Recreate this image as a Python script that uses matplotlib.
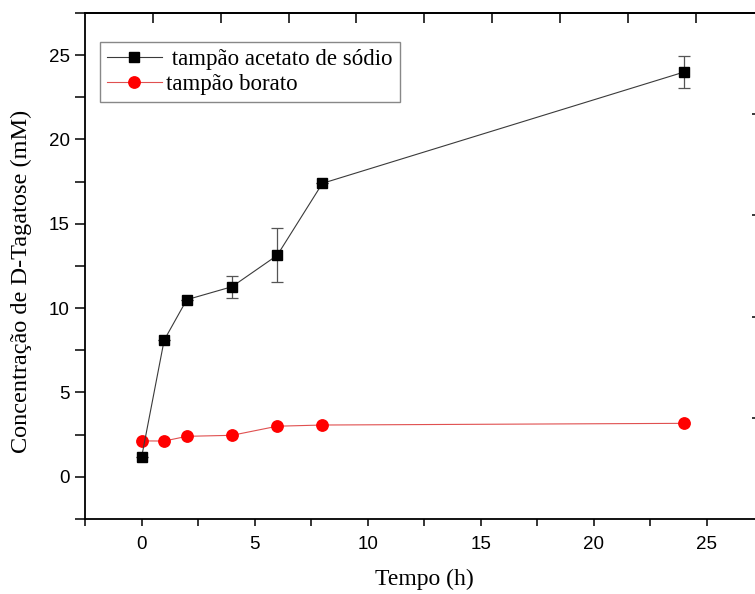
import numpy as np
import matplotlib.pyplot as plt
from matplotlib.ticker import MultipleLocator

# time points (h)
tempo = [0, 1, 2, 4, 6, 8, 24]

# D-tagatose concentration (mM)
acetato = [1.15, 8.1, 10.5, 11.27, 13.13, 17.4, 24.0]
acetato_err = [0.0, 0.0, 0.0, 0.64, 1.6, 0.0, 0.95]
borato = [2.13, 2.12, 2.4, 2.46, 3.0, 3.07, 3.17]

serif = "Liberation Serif"
sans = "Liberation Sans"

fig = plt.figure(figsize=(7.55, 5.94), dpi=100)
ax = fig.add_axes([0.1126, 0.1263, 0.8985, 0.8519])

ax.errorbar(tempo, acetato, yerr=acetato_err, fmt="none",
            ecolor="#555555", elinewidth=0.9, capsize=4.5, capthick=0.9,
            zorder=2)
h1, = ax.plot(tempo, acetato, color="#3a3a3a", lw=0.8, marker="s", ms=7.4,
              mfc="black", mec="black", zorder=3)
h2, = ax.plot(tempo, borato, color="#e05050", lw=0.8, marker="o", ms=8.2,
              mfc="red", mec="red", zorder=2)

ax.set_xlim(-2.5, 27.5)
ax.set_ylim(-2.5, 27.5)
ax.xaxis.set_major_locator(MultipleLocator(5))
ax.xaxis.set_minor_locator(MultipleLocator(2.5))
ax.yaxis.set_major_locator(MultipleLocator(5))
ax.yaxis.set_minor_locator(MultipleLocator(2.5))

ax.tick_params(axis="both", which="both", direction="out", width=1.1,
               labelsize=13.5, top=False, right=False)
ax.tick_params(axis="y", which="both", length=7, pad=4)
ax.tick_params(axis="x", which="both", length=5, pad=7)
for lab in ax.get_xticklabels() + ax.get_yticklabels():
    lab.set_fontfamily(sans)

for sp in ax.spines.values():
    sp.set_linewidth(1.3)

ax.set_xlabel("Tempo (h)", fontfamily=serif, fontsize=17, labelpad=12)
ax.set_ylabel("Concentração de D-Tagatose (mM)", fontfamily=serif,
              fontsize=17.5)
ax.yaxis.set_label_coords(-0.078, 0.47)

# frame ticks along top and right edges (ten / five equal divisions)
top = ax.secondary_xaxis("top", functions=(lambda x: (x + 2.5) / 3.0,
                                           lambda u: 3.0 * u - 2.5))
top.set_xticks(np.arange(1, 10))
top.tick_params(axis="x", which="both", direction="in", length=7.5,
                width=1.1, labeltop=False)
top.spines["top"].set_linewidth(1.3)
right = ax.secondary_yaxis("right", functions=(lambda y: (y + 2.5) / 30.0,
                                               lambda u: 30.0 * u - 2.5))
right.set_yticks([0.2, 0.4, 0.6, 0.8])
right.tick_params(axis="y", which="both", direction="in", length=8.2,
                  width=1.1, labelright=False)

leg = ax.legend([h1, h2], [" tampão acetato de sódio", "tampão borato"],
                loc="upper left", bbox_to_anchor=(0.022, 0.943),
                borderaxespad=0, prop={"family": serif, "size": 16.5},
                handlelength=2.4, handletextpad=0.2, labelspacing=0.2,
                borderpad=0.3, fancybox=False, framealpha=1)
leg.get_frame().set_edgecolor("#888888")
leg.get_frame().set_linewidth(1.0)

fig.savefig("out.png", dpi=100)
